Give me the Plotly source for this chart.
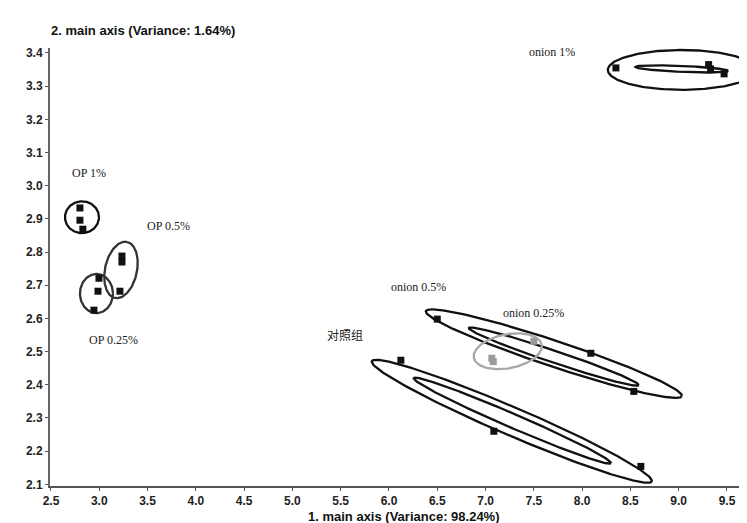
import numpy as np
import plotly.graph_objects as go

# ---- data ----
groups = ["onion 1%", "OP 1%", "OP 0.5%", "OP 0.25%", "onion 0.5%", "onion 0.25%", "对照组"]
pts_x = {
    "onion 1%": [8.35, 9.31, 9.33, 9.47],
    "OP 1%": [2.80, 2.80, 2.83],
    "OP 0.5%": [3.235, 3.235, 3.214],
    "OP 0.25%": [2.997, 2.987, 2.945],
    "onion 0.5%": [6.50, 8.09, 8.535],
    "onion 0.25%": [7.065, 7.08, 7.50],
    "对照组": [6.123, 7.086, 8.608],
}
pts_y = {
    "onion 1%": [3.355, 3.365, 3.352, 3.337],
    "OP 1%": [2.933, 2.896, 2.869],
    "OP 0.5%": [2.788, 2.770, 2.682],
    "OP 0.25%": [2.721, 2.682, 2.625],
    "onion 0.5%": [2.598, 2.495, 2.380],
    "onion 0.25%": [2.480, 2.470, 2.531],
    "对照组": [2.474, 2.260, 2.154],
}
pt_color = {g: "#111111" for g in groups}
pt_color["onion 0.25%"] = "#9a9a9a"

# ellipses: centre, first half-axis vector, second half-axis vector (data units)
ell_cx = [9.032, 9.032, 2.821, 3.225, 2.971, 7.707, 7.707, 7.23, 7.272, 7.277]
ell_cy = [3.349, 3.352, 2.905, 2.746, 2.675, 2.494, 2.485, 2.501, 2.290, 2.292]
ell_ax = [0.766, 0.481, 0.176, 0.062, 0.171, 1.325, 0.880, 0.352, 1.449, 1.020]
ell_ay = [0.0, -0.006, 0.0, 0.0845, 0.0, -0.128, -0.086, 0.018, -0.181, -0.128]
ell_bx = [0.0, 0.0, 0.0, 0.162, 0.0, -0.042, -0.020, 0.021, -0.057, -0.029]
ell_by = [0.060, 0.009, 0.048, -0.010, 0.059, -0.037, -0.017, -0.051, -0.039, -0.0193]
ell_col = ["#111111", "#111111", "#111111", "#333333", "#333333",
           "#111111", "#111111", "#a8a8a8", "#111111", "#111111"]

lab_text = ["OP 1%", "OP 0.5%", "OP 0.25%", "onion 0.5%", "onion 0.25%", "对照组"]
lab_x = [2.893, 3.72, 3.152, 6.31, 7.50, 5.543]
lab_y = [3.038, 2.878, 2.534, 2.694, 2.616, 2.546]
top_label = "onion 1%"   # sits above the plotting area
top_label_x = 7.686

x_title = "1. main axis (Variance: 98.24%)"
y_title = "2. main axis (Variance: 1.64%)"

X_RANGE = [2.49, 9.79]
Y_RANGE = [2.095, 3.415]

fig = go.Figure()

t = np.linspace(0, 2 * np.pi, 240)
for cx, cy, ax, ay, bx, by, c in zip(ell_cx, ell_cy, ell_ax, ell_ay, ell_bx, ell_by, ell_col):
    fig.add_trace(go.Scatter(
        x=cx + np.cos(t) * ax + np.sin(t) * bx,
        y=cy + np.cos(t) * ay + np.sin(t) * by,
        mode="lines", line=dict(color=c, width=2.3), hoverinfo="skip", showlegend=False))

for g in groups:
    fig.add_trace(go.Scatter(
        x=pts_x[g], y=pts_y[g], mode="markers", name=g, showlegend=False,
        marker=dict(symbol="square", size=7, color=pt_color[g])))

lab_font = dict(family="Liberation Serif, Noto Sans CJK SC", size=12, color="#222222")
for txt, lx, ly in zip(lab_text, lab_x, lab_y):
    fig.add_annotation(x=lx, y=ly, xref="x", yref="y", text=txt, showarrow=False, font=lab_font)

# label above the plot area: x in data units, y in paper units
fig.add_annotation(x=top_label_x, y=1.012, xref="x", yref="paper", text=top_label,
                   showarrow=False, font=lab_font)

title_font = dict(family="Liberation Sans, Arial", size=13, color="#111111", weight="bold")
fig.add_annotation(xref="paper", yref="paper", x=(135 - 42) / 705, y=(477.7 - 23) / 437.7,
                   text=y_title, showarrow=False, xanchor="center", yanchor="middle", font=title_font)
fig.add_annotation(xref="paper", yref="paper", x=(396 - 42) / 705, y=(477.7 - 508) / 437.7,
                   text=x_title, showarrow=False, xanchor="center", yanchor="middle", font=title_font)

tick_font = dict(family="Liberation Sans, Arial", size=12, color="#222222", weight="bold")
fig.update_layout(
    width=747, height=523,
    margin=dict(l=42, r=0, t=40, b=45),
    paper_bgcolor="white", plot_bgcolor="white",
    xaxis=dict(range=X_RANGE, dtick=0.5, tick0=2.5, tickformat=".1f",
               showgrid=False, zeroline=False, showline=True, linecolor="#555555", linewidth=2,
               ticks="outside", ticklen=3, tickcolor="#555555", tickfont=tick_font),
    yaxis=dict(range=Y_RANGE, dtick=0.1, tick0=2.1, tickformat=".1f",
               showgrid=False, zeroline=False, showline=True, linecolor="#666666", linewidth=2,
               ticks="outside", ticklen=3, tickcolor="#555555", tickfont=tick_font),
)

fig.write_html("out.html")
